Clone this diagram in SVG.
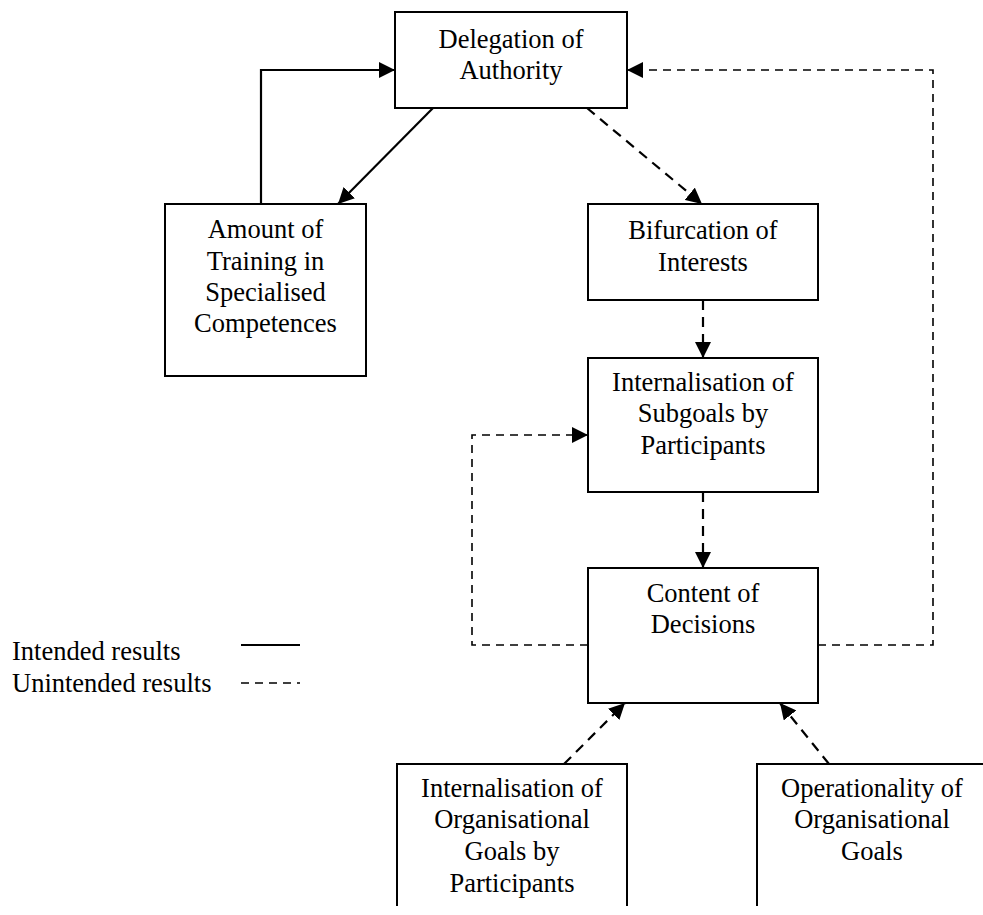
<svg xmlns="http://www.w3.org/2000/svg" width="983" height="915" viewBox="0 0 983 915">
<style>
.box{fill:#fff;stroke:#000;stroke-width:2}
.open{fill:none;stroke:#000;stroke-width:2}
text{font-family:"Liberation Serif","Times New Roman",serif;font-size:26.5px;fill:#000;text-anchor:middle}
.lg{text-anchor:start}
.solid{fill:none;stroke:#000;stroke-width:2.2}
.dash{fill:none;stroke:#000;stroke-width:2.2;stroke-dasharray:10 7}
.thin{fill:none;stroke:#000;stroke-width:1.6;stroke-dasharray:8 6}
</style>
<defs>
<marker id="ah" viewBox="0 0 16 16" refX="16" refY="8" markerWidth="16" markerHeight="16" markerUnits="userSpaceOnUse" orient="auto">
<path d="M0,0 L16,8 L0,16 Z" fill="#000"/>
</marker>
</defs>
<rect width="983" height="915" fill="#fff"/>
<g id="connectors">
<path class="solid" d="M433,108 L338,204" marker-end="url(#ah)"/>
<path class="solid" d="M261,204 L261,70 L395,70" marker-end="url(#ah)"/>
<path class="dash" d="M587,108 L702,204" marker-end="url(#ah)"/>
<path class="dash" d="M703,300 L703,358" marker-end="url(#ah)"/>
<path class="dash" d="M703,492 L703,568" marker-end="url(#ah)"/>
<path class="thin" d="M588,645 L472,645 L472,435 L588,435" marker-end="url(#ah)"/>
<path class="thin" d="M818,645 L933,645 L933,70 L627,70" marker-end="url(#ah)"/>
<path class="dash" d="M564,764 L625,703" marker-end="url(#ah)"/>
<path class="dash" d="M829,764 L780,703" marker-end="url(#ah)"/>
</g>
<g id="delegation">
<rect class="box" x="395" y="12" width="232" height="96"/>
<text x="511" y="47.5">Delegation of</text>
<text x="511" y="79">Authority</text>
</g>
<g id="amount">
<rect class="box" x="165" y="204" width="201" height="172"/>
<text x="265.5" y="238">Amount of</text>
<text x="265.5" y="269.5">Training in</text>
<text x="265.5" y="300.5">Specialised</text>
<text x="265.5" y="331.5">Competences</text>
</g>
<g id="bifurcation">
<rect class="box" x="588" y="204" width="230" height="96"/>
<text x="703" y="239">Bifurcation of</text>
<text x="703" y="271">Interests</text>
</g>
<g id="subgoals">
<rect class="box" x="588" y="358" width="230" height="134"/>
<text x="703" y="391">Internalisation of</text>
<text x="703" y="422">Subgoals by</text>
<text x="703" y="454">Participants</text>
</g>
<g id="content">
<rect class="box" x="588" y="568" width="230" height="135"/>
<text x="703" y="602">Content of</text>
<text x="703" y="633">Decisions</text>
</g>
<g id="orggoals">
<path class="open" d="M397,906 L397,764 L627,764 L627,906"/>
<text x="512" y="797">Internalisation of</text>
<text x="512" y="828">Organisational</text>
<text x="512" y="860">Goals by</text>
<text x="512" y="891.5">Participants</text>
</g>
<g id="operationality">
<path class="open" d="M757,906 L757,764 L990,764"/>
<text x="872" y="797">Operationality of</text>
<text x="872" y="828">Organisational</text>
<text x="872" y="860">Goals</text>
</g>
<g id="legend">
<text class="lg" x="12" y="660">Intended results</text>
<text class="lg" x="12" y="692">Unintended results</text>
<line class="solid" x1="241" y1="645" x2="300" y2="645" stroke-width="1.8"/>
<line class="thin" x1="241" y1="683" x2="300" y2="683" stroke-dasharray="6 6.5"/>
</g>
</svg>
